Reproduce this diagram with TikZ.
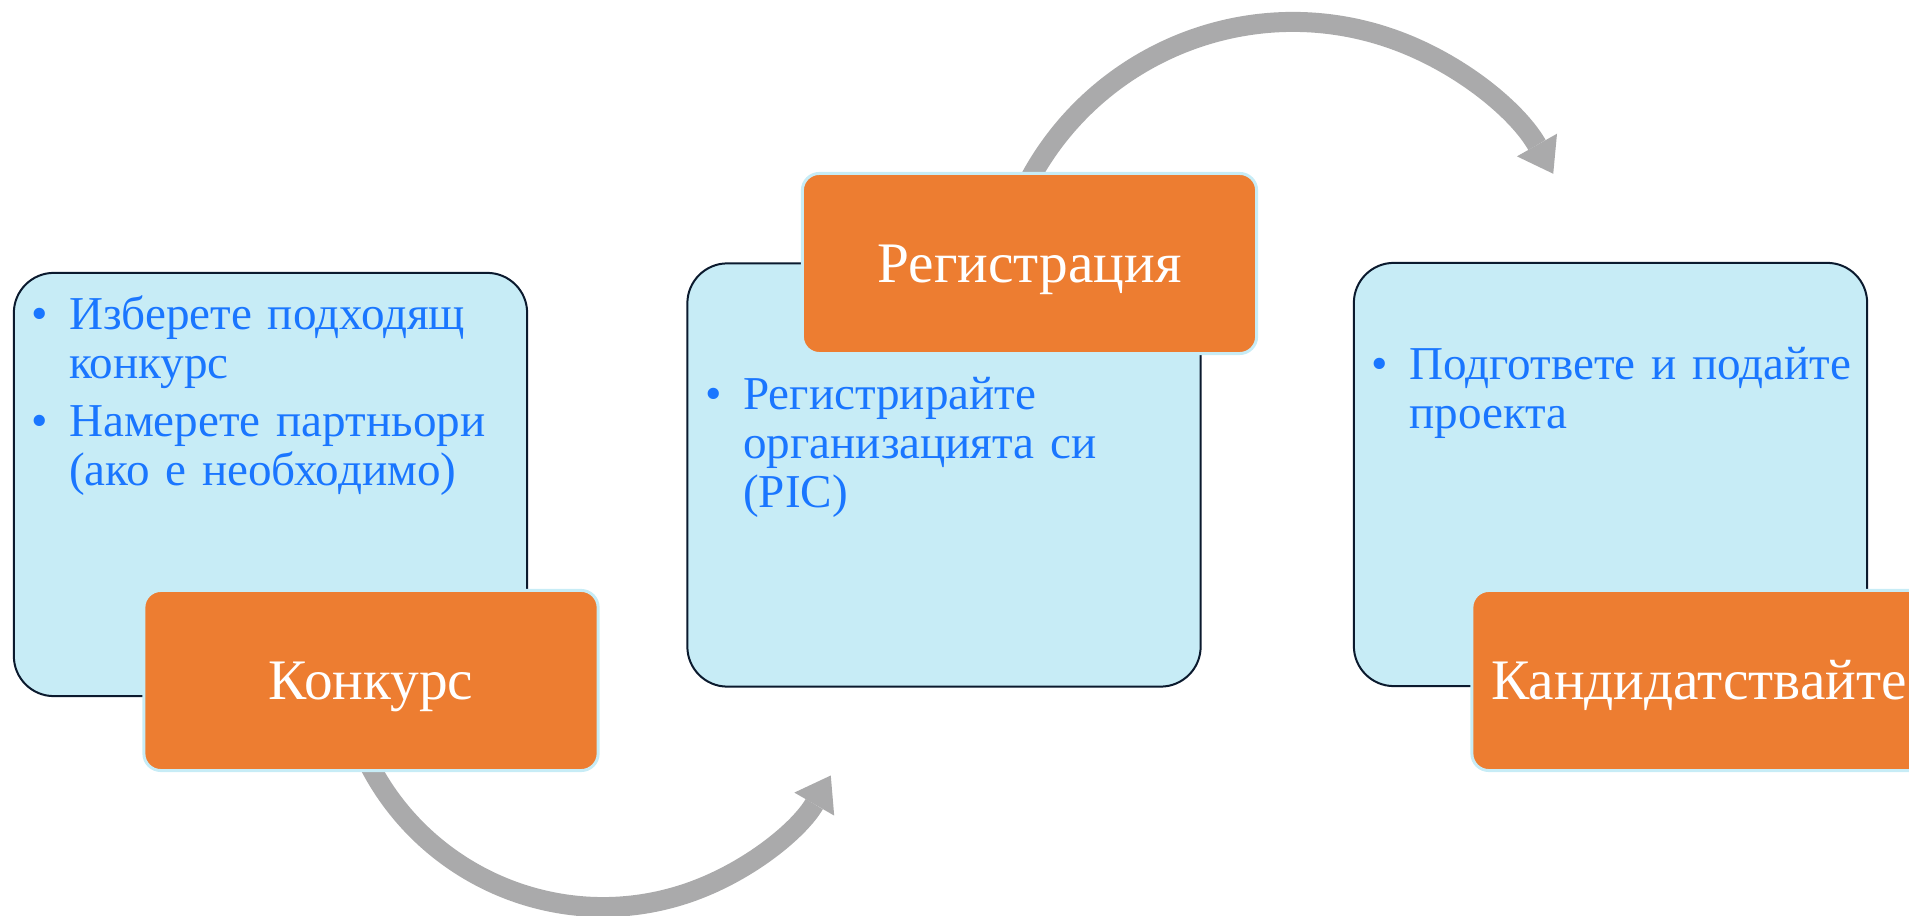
\documentclass[tikz,border=0pt]{standalone}
\usepackage{fontspec}
\setmainfont{Liberation Serif}
\usetikzlibrary{arrows.meta}
\definecolor{paleblue}{HTML}{C7ECF6}
\definecolor{boxline}{HTML}{0B1A2E}
\definecolor{stepfill}{HTML}{ED7D31}
\definecolor{itemblue}{HTML}{1A76FF}
\definecolor{arcgray}{HTML}{AAAAAB}
\newcommand{\bitem}{\raggedright\hangindent=0.375cm\hangafter=1\makebox[0.375cm][l]{\textbullet}}

\begin{document}
\begin{tikzpicture}[x=0.01cm, y=-0.01cm,
    infobox/.style={fill=paleblue, draw=boxline, line width=0.02cm, rounded corners=0.4cm,
      minimum width=5.13cm, minimum height=4.23cm, inner sep=0pt},
    steptitle/.style={fill=stepfill, draw=paleblue, line width=0.03cm, rounded corners=0.17cm,
      minimum width=4.54cm, minimum height=1.8cm, inner sep=0pt, text=white,
      font=\fontsize{16.3pt}{18pt}\selectfont, text height=0.38cm, text depth=0pt},
    listtext/.style={anchor=base west, inner sep=0pt, text width=6cm,
      text=itemblue, font=\fontsize{13.4pt}{13.8pt}\selectfont},
    flow/.style={draw=arcgray, line width=0.2cm,
      -{Triangle[length=0.33cm, width=0.46cm, line width=0pt]}}]
  \useasboundingbox (0,0) rectangle (1909,916);
  % light blue panels
  \node[infobox] (callBox) at (270.5,484.5) {};
  \node[infobox] (regBox) at (944,475) {};
  \node[infobox] (applyBox) at (1610.5,474.5) {};
  % curved arrows
  \coordinate (lowPivot) at (603,644);
  \coordinate (highPivot) at (1293,321);
  \draw[flow] (lowPivot) ++(160:263) arc[start angle=160, end angle=30, radius=263];
  \draw[flow] (highPivot) ++(200:299) arc[start angle=200, end angle=330.5, radius=299];
  % orange titles
  \node[steptitle] (callTitle) at (371,680.5) {Конкурс};
  \node[steptitle] (regTitle) at (1029.5,263.5) {Регистрация};
  \node[steptitle] (applyTitle) at (1699,680.5) {Кандидатствайте};
  % bullet lists
  \node[listtext] (callList) at (31,330) {\bitem Изберете подходящ\newline конкурс\par\vspace{2.7pt}%
    \bitem Намерете партньори\newline (ако е необходимо)\par};
  \node[listtext] (regList) at (705,410) {\bitem Регистрирайте\newline организацията си\newline (PIC)\par};
  \node[listtext] (applyList) at (1371,380) {\bitem Подгответе и подайте\newline проекта\par};
\end{tikzpicture}
\end{document}
